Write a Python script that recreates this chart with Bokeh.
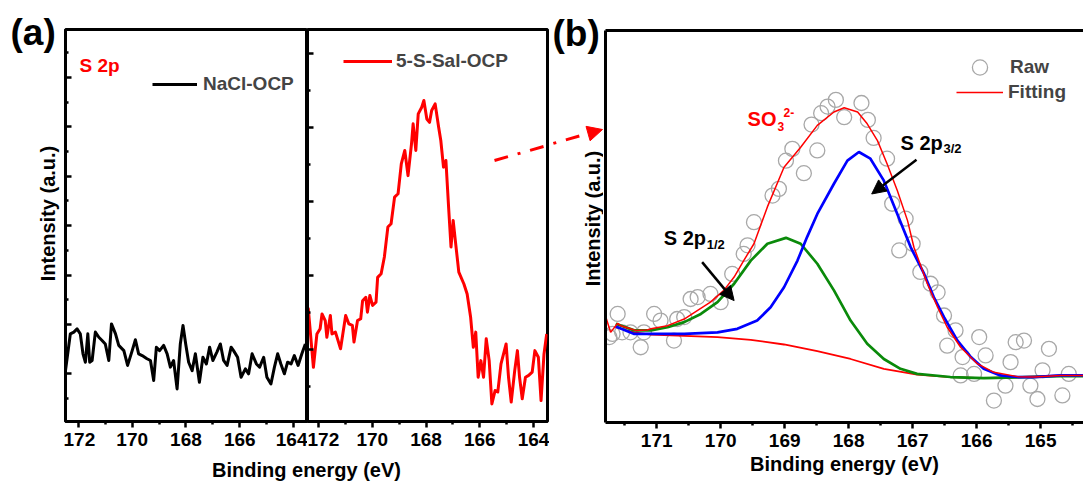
import math
from bokeh.plotting import figure
from bokeh.models import (Range1d, FixedTicker, Legend, LegendItem, Label, Arrow,
                          NormalHead, LinearAxis)
from bokeh.layouts import row, column
from bokeh.embed import file_html
from bokeh.resources import INLINE

FONT = "Liberation Sans"

# ---------------- data: panel (a) ----------------
nacl_be = [172.48, 172.30, 172.17, 172.05, 171.93, 171.83, 171.74, 171.65, 171.58, 171.49,
           171.37, 171.24, 171.12, 171.00, 170.87, 170.77, 170.62, 170.50, 170.31, 170.17,
           170.00, 169.88, 169.76, 169.63, 169.45, 169.32, 169.20, 169.10, 168.98, 168.83,
           168.70, 168.58, 168.46, 168.33, 168.21, 168.11, 168.01, 167.90, 167.77, 167.65,
           167.50, 167.37, 167.24, 167.12, 167.00, 166.85, 166.72, 166.60, 166.47, 166.32,
           166.23, 166.08, 165.95, 165.79, 165.67, 165.54, 165.38, 165.26, 165.11, 164.99,
           164.84, 164.71, 164.59, 164.47, 164.34, 164.22, 164.09, 163.97, 163.83, 163.69,
           163.56]
nacl_int = [2.13, 3.62, 3.69, 3.82, 3.62, 2.81, 2.47, 3.62, 2.47, 2.54,
            3.69, 3.48, 3.35, 3.21, 2.54, 4.02, 3.62, 3.15, 2.94, 2.34,
            2.94, 3.38, 2.81, 2.74, 2.61, 2.54, 1.73, 3.08, 2.94, 3.15,
            2.81, 2.27, 2.54, 1.39, 3.21, 3.96, 3.21, 2.47, 2.13, 2.81,
            1.66, 2.67, 2.40, 3.08, 2.54, 2.88, 3.21, 2.54, 2.34, 3.08,
            2.94, 2.67, 1.86, 2.20, 2.00, 2.81, 2.40, 2.27, 2.67, 1.86,
            1.59, 2.27, 2.81, 2.40, 2.00, 2.47, 2.40, 2.74, 2.34, 2.81,
            3.21]

sal_be = [172.48, 172.38, 172.19, 172.06, 171.94, 171.87, 171.75, 171.69, 171.56, 171.50,
          171.37, 171.18, 170.99, 170.87, 170.74, 170.68, 170.55, 170.43, 170.36, 170.24,
          170.18, 170.09, 169.99, 169.86, 169.80, 169.67, 169.55, 169.42, 169.30, 169.17,
          169.04, 168.92, 168.79, 168.67, 168.54, 168.48, 168.38, 168.29, 168.16, 168.08,
          167.97, 167.87, 167.79, 167.66, 167.53, 167.45, 167.35, 167.26, 167.16, 167.07,
          166.99, 166.91, 166.78, 166.59, 166.47, 166.34, 166.24, 166.15, 166.06, 165.96,
          165.86, 165.76, 165.65, 165.55, 165.43, 165.33, 165.21, 165.02, 164.93, 164.83,
          164.70, 164.60, 164.52, 164.42, 164.30, 164.18, 164.05, 163.95, 163.82, 163.72,
          163.61, 163.51]
sal_int = [3.19, 3.10, 1.52, 2.42, 2.56, 2.96, 2.78, 2.33, 2.92, 2.42,
           2.47, 2.02, 2.92, 2.69, 2.65, 2.20, 2.78, 2.83, 3.32, 3.41,
           3.01, 3.46, 3.19, 3.28, 3.95, 4.05, 4.50, 5.31, 5.40, 6.12,
           6.21, 7.02, 7.38, 6.70, 7.56, 8.10, 7.38, 8.37, 8.55, 8.73,
           8.23, 8.14, 8.46, 8.64, 8.01, 7.65, 6.93, 7.11, 5.85, 4.77,
           5.49, 4.95, 4.09, 3.77, 3.50, 2.87, 2.06, 2.47, 1.25, 1.70,
           1.25, 2.29, 1.70, 0.53, 0.89, 0.85, 1.61, 2.15, 1.25, 0.58,
           1.43, 1.97, 1.25, 0.67, 1.25, 1.30, 1.39, 1.97, 1.79, 0.62,
           1.88, 2.42]

# ---------------- data: panel (b) ----------------
raw_be = [168.20, 168.33, 168.43, 168.58, 168.07, 167.80, 167.70, 167.61, 167.40, 168.49,
          168.88, 168.98, 168.70, 169.09, 169.19, 167.32, 167.11, 169.48, 169.58, 167.00,
          169.64, 167.21, 166.88, 169.82, 166.72, 166.61, 170.36, 170.47, 170.16, 170.00,
          166.51, 171.61, 171.04, 170.94, 170.68, 170.57, 166.33, 171.69, 171.54, 171.41,
          171.20, 170.73, 171.25, 166.46, 165.96, 165.86, 165.39, 165.26, 166.22, 165.47,
          164.87, 166.04, 164.97, 164.56, 166.25, 165.55, 165.16, 165.73, 165.05, 164.66,
          171.74]
raw_int = [82.3, 80.6, 78.9, 76.0, 77.9, 81.5, 77.2, 72.6, 67.3, 69.4,
           69.8, 66.8, 63.6, 59.6, 57.9, 55.8, 52.0, 51.1, 45.2, 45.6,
           43.0, 43.9, 38.4, 37.9, 35.4, 33.2, 32.0, 31.5, 32.8, 30.7,
           27.3, 27.7, 27.7, 26.0, 26.4, 26.9, 23.5, 22.6, 23.0, 23.0,
           23.0, 20.9, 19.2, 19.6, 21.8, 17.1, 20.5, 20.9, 16.7, 15.4,
           18.8, 12.4, 13.3, 12.4, 12.0, 9.4, 9.4, 5.6, 6.0, 6.9,
           21.8]

fit_be = [171.81, 171.72, 171.61, 171.56, 171.41, 171.33, 171.15, 171.09, 170.83, 170.57,
          170.36, 170.16, 169.95, 169.79, 169.64, 169.48, 169.27, 169.01, 168.75, 168.49,
          168.23, 168.07, 167.86, 167.71, 167.55, 167.40, 167.24, 167.08, 166.98, 166.77,
          166.61, 166.46, 166.25, 165.99, 165.73, 165.36, 165.10, 164.69, 164.30]
fit_int = [27.7, 23.0, 25.3, 24.7, 23.9, 23.5, 23.6, 23.9, 24.7, 26.4,
           28.6, 30.7, 33.7, 37.1, 41.3, 45.6, 55.0, 65.1, 70.2, 75.8,
           79.2, 80.3, 79.2, 76.2, 71.9, 66.0, 59.2, 51.5, 44.7, 35.4,
           29.4, 24.3, 19.2, 15.0, 12.8, 11.7, 11.6, 12.0, 12.0]

p32_be = [171.64, 171.35, 170.57, 170.05, 169.74, 169.43, 169.22, 169.01, 168.80, 168.65,
          168.49, 168.23, 168.02, 167.84, 167.66, 167.45, 167.24, 167.03, 166.82, 166.67,
          166.51, 166.30, 166.09, 165.89, 165.63, 165.36, 165.10, 164.69, 164.30]
p32_int = [24.5, 22.6, 22.6, 23.0, 23.9, 26.0, 29.4, 34.5, 41.3, 47.3,
           53.2, 60.9, 66.8, 69.0, 67.3, 61.7, 53.2, 44.7, 37.9, 32.0,
           26.9, 20.9, 16.7, 13.7, 12.0, 11.6, 11.6, 12.0, 12.0]

p12_be = [171.64, 171.35, 171.09, 170.83, 170.57, 170.31, 170.05, 169.79, 169.53, 169.27,
          168.98, 168.75, 168.49, 168.23, 167.97, 167.71, 167.45, 167.19, 166.93, 166.41,
          165.89, 164.69, 164.30]
p12_int = [25.2, 23.5, 23.5, 24.3, 25.6, 27.7, 30.7, 35.4, 41.3, 45.6,
           47.1, 45.6, 40.5, 33.7, 26.0, 20.1, 16.2, 13.7, 12.4, 11.6,
           11.3, 11.8, 11.8]

bg_be = [171.64, 171.35, 171.09, 170.57, 170.05, 169.53, 169.01, 168.49, 167.97, 167.45,
         166.93, 166.41, 165.89, 164.69, 164.30]
bg_int = [24.3, 23.0, 22.4, 22.1, 21.8, 21.1, 19.9, 18.2, 16.2, 13.7,
          12.2, 11.6, 11.3, 12.0, 12.0]

a_ticks = [172, 170, 168, 166, 164]
a_minor = [171, 169, 167, 165, 163]
b_ticks = [171, 170, 169, 168, 167, 166, 165]
b_minor = [171.5, 170.5, 169.5, 168.5, 167.5, 166.5, 165.5, 164.5]


def base_fig(**kw):
    f = figure(output_backend="svg", toolbar_location=None, title=None, **kw)
    f.xgrid.visible = False
    f.ygrid.visible = False
    f.background_fill_color = "white"
    f.border_fill_color = "white"
    return f


def blank_fig(w, h):
    # an empty canvas (no axes, no title) for texts that sit outside the plot frames
    f = figure(width=w, height=h, x_range=Range1d(0, w), y_range=Range1d(0, h),
               x_axis_location=None, y_axis_location=None, min_border=0,
               min_border_left=0, min_border_right=0, min_border_top=0,
               min_border_bottom=0, title=None,
               output_backend="svg", toolbar_location=None)
    f.grid.visible = False
    f.outline_line_color = None
    f.background_fill_color = "white"
    f.border_fill_color = "white"
    return f


def style_x(ax, ticks, minor):
    ax.ticker = FixedTicker(ticks=ticks, minor_ticks=minor)
    ax.axis_line_width = 3
    ax.axis_line_color = "black"
    ax.major_tick_line_width = 2.5
    ax.minor_tick_line_width = 2.5
    ax.major_tick_line_color = "black"
    ax.minor_tick_line_color = "black"
    ax.major_tick_in = 0
    ax.major_tick_out = 6
    ax.minor_tick_in = 0
    ax.minor_tick_out = 3
    ax.major_label_text_font = FONT
    ax.major_label_text_font_style = "bold"
    ax.major_label_text_font_size = "19px"
    ax.major_label_text_color = "black"
    ax.major_label_standoff = 5


def style_y_inward(ax, ticks, minor):
    ax.ticker = FixedTicker(ticks=ticks, minor_ticks=minor)
    ax.major_label_overrides = {t: "" for t in ticks}
    ax.major_label_standoff = 0
    ax.axis_line_width = 3
    ax.major_tick_line_width = 2.5
    ax.minor_tick_line_width = 2.5
    ax.major_tick_in = 6
    ax.major_tick_out = 0
    ax.minor_tick_in = 3
    ax.minor_tick_out = 0


def lbl(text, x, y, size, color="black", **kw):
    kw.setdefault("text_baseline", "middle")
    return Label(x=x, y=y, text=text, text_font=FONT, text_font_style="bold",
                 text_font_size=size, text_color=color, **kw)


# ---------------- panel (a): left strip with "(a)" and y title ----------------
sa = blank_fig(63, 456)
sa.add_layout(lbl("(a)", 10, 424, "37px"))
sa.add_layout(lbl("Intensity (a.u.)", 47, 243, "20px", angle=math.pi / 2,
                  text_align="center"))

# ---------------- panel (a), left ----------------
f1 = base_fig(width=244, height=456, x_range=Range1d(172.48, 163.48),
              y_range=Range1d(0.07, 15.94), min_border_left=2, min_border_right=0,
              min_border_top=29, min_border_bottom=35)
f1.outline_line_color = "black"
f1.outline_line_width = 3
style_x(f1.xaxis[0], a_ticks, a_minor)
style_y_inward(f1.yaxis[0], [2, 4, 6, 8, 10, 12, 14], [1, 3, 5, 7, 9, 11, 13, 15])
r_nacl = f1.line(nacl_be, nacl_int, line_color="black", line_width=3, line_join="round")
leg1 = Legend(items=[LegendItem(label="NaCl-OCP", renderers=[r_nacl])], location=(87, 326),
              glyph_width=45, glyph_height=20, label_standoff=6, padding=0, margin=0,
              border_line_color=None, background_fill_alpha=0, label_text_font=FONT,
              label_text_font_style="bold", label_text_font_size="19px", label_height=20)
f1.add_layout(leg1)
f1.add_layout(lbl("S 2p", 171.96, 14.48, "19px", "red"))

# ---------------- panel (a), right ----------------
f2 = base_fig(width=242, height=456, x_range=Range1d(172.41, 163.48),
              y_range=Range1d(0.054, 10.65), min_border_left=0, min_border_right=2,
              min_border_top=29, min_border_bottom=35)
f2.outline_line_color = "black"
f2.outline_line_width = 3
style_x(f2.xaxis[0], a_ticks, a_minor)
style_y_inward(f2.yaxis[0], [2, 4, 6, 8, 10], [1, 3, 5, 7, 9])
r_sal = f2.line(sal_be, sal_int, line_color="red", line_width=3, line_join="round")
leg2 = Legend(items=[LegendItem(label="5-S-Sal-OCP", renderers=[r_sal])], location=(36, 349),
              glyph_width=49, glyph_height=20, label_standoff=4, padding=0, margin=0,
              border_line_color=None, background_fill_alpha=0, label_text_font=FONT,
              label_text_font_style="bold", label_text_font_size="19px", label_height=20)
f2.add_layout(leg2)
f2.add_layout(Arrow(end=None, x_start=187, y_start=261, x_end=243, y_end=277,
                    start_units="screen", end_units="screen",
                    line_color="red", line_width=3, line_dash="14 10 3 10"))

# shared x title of panel (a)
xs = blank_fig(549, 25)
xs.add_layout(lbl("Binding energy (eV)", 306, 12, "20px", text_align="center"))

# ---------------- panel (b): left strip with "(b)", y title, arrow end ----------------
sb = blank_fig(54, 481)
sb.add_layout(lbl("(b)", 3, 448, "37px"))
sb.add_layout(lbl("Intensity (a.u.)", 43, 263, "20px", angle=math.pi / 2,
                  text_align="center"))
sb.add_layout(Arrow(end=NormalHead(size=15, fill_color="red", line_color="red"),
                    x_start=0, y_start=337, x_end=53, y_end=352,
                    line_color="red", line_width=3, line_dash="14 10 3 10",
                    line_dash_offset=20))

# ---------------- panel (b) ----------------
fb = base_fig(width=480, height=481, x_range=Range1d(171.8, 164.33), y_range=Range1d(0, 100),
              min_border_left=2, min_border_right=0, min_border_top=30, min_border_bottom=59)
fb.outline_line_color = None
style_x(fb.xaxis[0], b_ticks, b_minor)
xa = fb.xaxis[0]
xa.axis_label = "Binding energy (eV)"
xa.axis_label_text_font = FONT
xa.axis_label_text_font_style = "bold"
xa.axis_label_text_font_size = "20px"
xa.axis_label_text_color = "black"
xa.axis_label_standoff = 3
ya = fb.yaxis[0]
ya.ticker = FixedTicker(ticks=[])
ya.axis_line_width = 3
ya.major_tick_in = 0
ya.major_tick_out = 0
ya.minor_tick_in = 0
ya.minor_tick_out = 0
ya.major_label_standoff = 0
top = LinearAxis(ticker=FixedTicker(ticks=[]), axis_line_width=3, major_tick_in=0,
                 major_tick_out=0, minor_tick_in=0, minor_tick_out=0, major_label_standoff=0)
fb.add_layout(top, "above")

r_raw = fb.scatter(raw_be, raw_int, size=15, marker="circle", fill_color=None,
                   line_color="#a8a8a8", line_width=1.3)
fb.line(bg_be, bg_int, line_color="red", line_width=1.8)
fb.line(p12_be, p12_int, line_color="#0a8a0a", line_width=2.7)
fb.line(p32_be, p32_int, line_color="blue", line_width=2.7)
r_fit = fb.line(fit_be, fit_int, line_color="red", line_width=1.5)

leg_common = dict(glyph_width=47, padding=0, margin=0, spacing=0, border_line_color=None,
                  background_fill_alpha=0, label_text_font=FONT, label_text_font_style="bold",
                  label_text_font_size="19px", label_height=20)
fb.add_layout(Legend(items=[LegendItem(label="Raw", renderers=[r_raw])], location=(351, 336),
                     glyph_height=38, label_standoff=7, **leg_common))
fb.add_layout(Legend(items=[LegendItem(label="Fitting", renderers=[r_fit])], location=(351, 319),
                     glyph_height=20, label_standoff=5, **leg_common))

fb.add_layout(lbl("SO", 169.58, 77.4, "20px", "red"))
fb.add_layout(lbl("3", 169.58, 75.6, "12px", "red", x_offset=30))
fb.add_layout(lbl("2-", 169.58, 79.0, "12px", "red", x_offset=36))
fb.add_layout(lbl("S 2p", 167.19, 71.3, "20px"))
fb.add_layout(lbl("3/2", 167.19, 69.9, "13px", x_offset=43))
fb.add_layout(lbl("S 2p", 170.89, 47.1, "20px"))
fb.add_layout(lbl("1/2", 170.89, 45.4, "13px", x_offset=43))
fb.add_layout(Arrow(end=NormalHead(size=14, fill_color="black", line_color="black"),
                    x_start=166.94, y_start=67.0, x_end=167.64, y_end=58.3,
                    line_color="black", line_width=2.5))
fb.add_layout(Arrow(end=NormalHead(size=14, fill_color="black", line_color="black"),
                    x_start=170.29, y_start=40.9, x_end=169.79, y_end=31.1,
                    line_color="black", line_width=2.5))

# the text strips are wrapped in their own columns so their frames are not
# aligned with the neighbouring plot frames
layout = row(column(row(column(sa), f1, f2), xs), column(sb), fb)
open("out.html", "w").write(file_html(layout, INLINE))
